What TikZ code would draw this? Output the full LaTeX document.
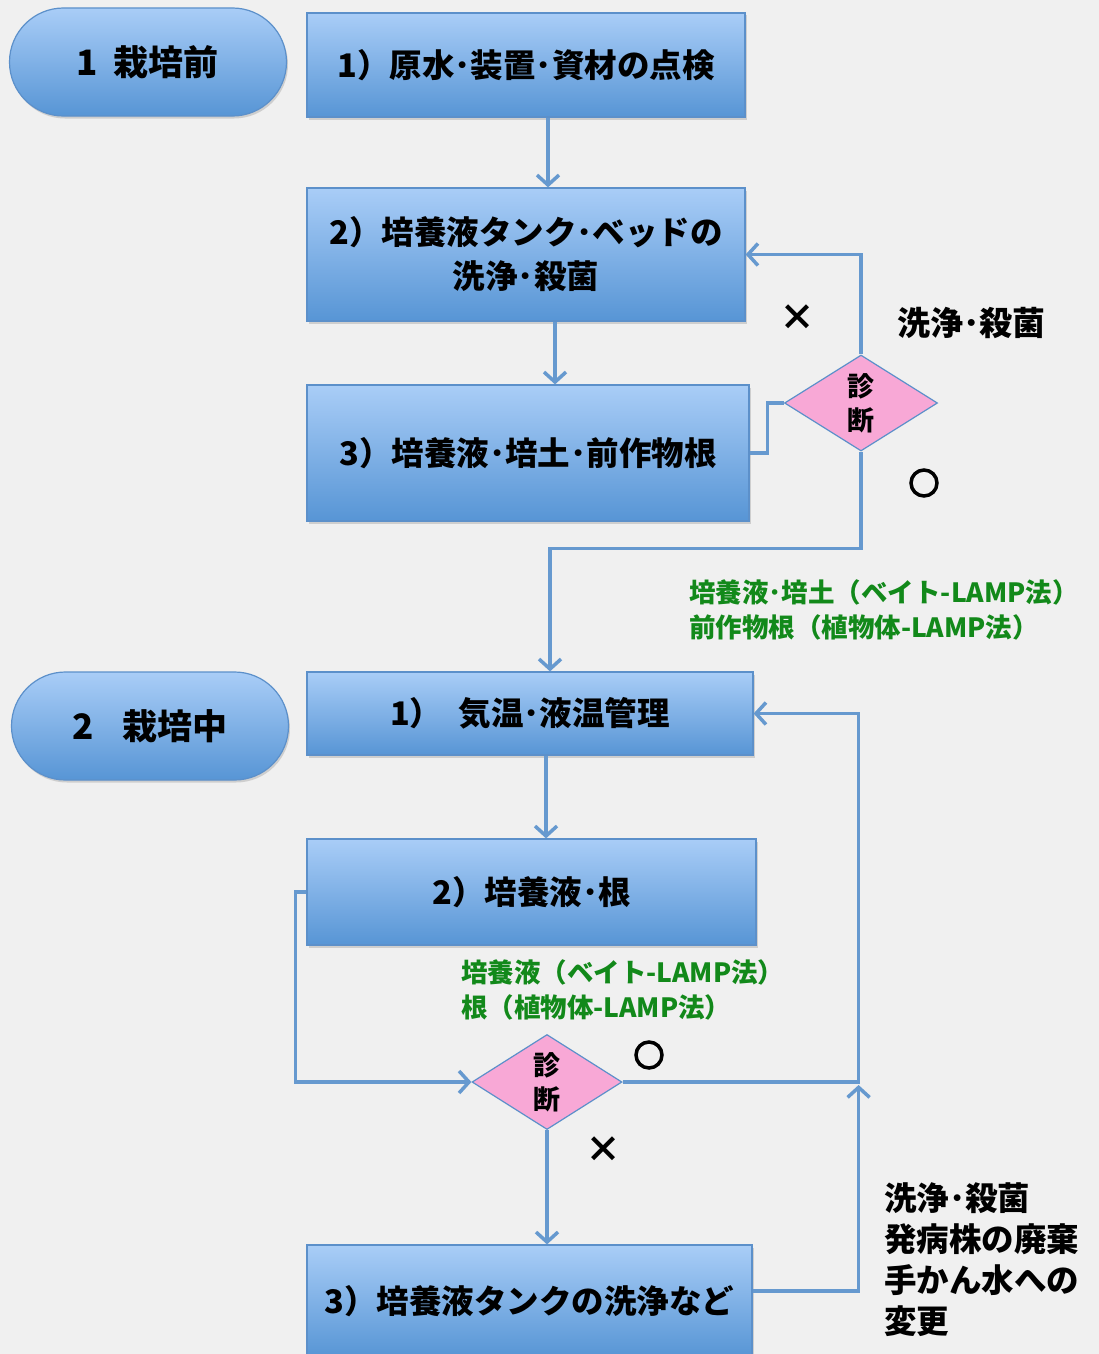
\documentclass[tikz,border=0pt]{standalone}
\usepackage{fontspec}
\setmainfont{Noto Sans CJK JP}
\usetikzlibrary{shapes.geometric,arrows.meta,shadows}
\definecolor{bgc}{HTML}{F0F0F0}
\definecolor{boxtop}{HTML}{A9CDF7}
\definecolor{boxbot}{HTML}{5795D5}
\definecolor{bordc}{HTML}{5C90CA}
\definecolor{linec}{HTML}{6699CF}
\definecolor{pinkc}{HTML}{F8A8D6}
\definecolor{greenc}{HTML}{12891A}
\tikzset{
  boxstyle/.style={draw=bordc, line width=1.2pt, top color=boxtop, bottom color=boxbot,
    align=center, inner sep=0pt, font=\bfseries\fontsize{32.5}{44}\selectfont,
    drop shadow={shadow xshift=1.5pt, shadow yshift=-2.5pt, opacity=0.3}},
  pillstyle/.style={boxstyle, rounded corners=54pt, font=\bfseries\fontsize{35}{40}\selectfont},
  diastyle/.style={diamond, draw=bordc, line width=1.2pt, fill=pinkc, aspect=1.6,
    inner sep=0pt, align=center, font=\bfseries\fontsize{27}{34}\selectfont},
  conn/.style={draw=linec, line width=3.5pt},
  arr/.style={conn, -{Straight Barb[length=10pt,width=22pt]}},
  symbol/.style={font=\bfseries\fontsize{36}{36}\selectfont},
  ringsym/.style={circle, draw=black, line width=3.5pt, minimum size=26pt, inner sep=0pt},
  note/.style={align=left, anchor=west, inner sep=0pt},
  greennote/.style={note, text=greenc, font=\bfseries\fontsize{26.5}{35}\selectfont},
}
\begin{document}
\begin{tikzpicture}[x=1pt,y=-1pt]
\useasboundingbox (0,0) rectangle (1099,1354);
\clip (0,0) rectangle (1099,1354);
\fill[bgc] (0,0) rectangle (1099,1354);

% section pills
\node[pillstyle, minimum width=277pt, minimum height=108pt] (p1) at (148,62) {1\hspace{0.45em}栽培前};
\node[pillstyle, minimum width=277pt, minimum height=108pt] (p2) at (150,726) {2\hspace{0.8em}栽培中};

% stage 1
\node[boxstyle, minimum width=438pt, minimum height=104pt] (A1) at (526,65) {1）原水･装置･資材の点検};
\node[boxstyle, minimum width=438pt, minimum height=133pt] (A2) at (526,254.5) {2）培養液タンク･ベッドの\\洗浄･殺菌};
\node[boxstyle, minimum width=442pt, minimum height=136pt] (A3) at (528,453) {3）培養液･培土･前作物根};
\node[diastyle, minimum width=153pt, minimum height=96pt] (d1) at (861,403) {診\\断};

% stage 2
\node[boxstyle, minimum width=446pt, minimum height=83pt] (B1) at (530,713.5) {1）\hspace{0.5em}気温･液温管理};
\node[boxstyle, minimum width=449pt, minimum height=106pt] (B2) at (531.5,892) {2）培養液･根};
\node[diastyle, minimum width=150pt, minimum height=95pt] (d2) at (547,1082) {診\\断};
\node[boxstyle, minimum width=445pt, minimum height=112pt] (B3) at (529.5,1301) {3）培養液タンクの洗浄など};

% labels
\node[symbol] (x1) at (797,318) {×};
\node[note, font=\bfseries\fontsize{33}{40}\selectfont] (t1) at (897,323) {洗浄･殺菌};
\node[ringsym] (o1) at (924,483) {};
\node[greennote] (g1) at (689,610) {培養液･培土（ベイト-LAMP法）\\前作物根（植物体-LAMP法）};
\node[greennote] (g2) at (461,990) {培養液（ベイト-LAMP法）\\根（植物体-LAMP法）};
\node[ringsym] (o2) at (649,1055) {};
\node[symbol] (x2) at (603,1150) {×};
\node[note, font=\bfseries\fontsize{32.5}{41}\selectfont] (t2) at (884,1260) {洗浄･殺菌\\発病株の廃棄\\手かん水への\\変更};

% connectors
\coordinate (jn) at ([xshift=236pt,yshift=-3pt]d2.east);
\draw[arr] ([xshift=22pt]A1.south) -- ([xshift=22pt]A2.north);
\draw[arr] ([xshift=29pt]A2.south) -- ([xshift=27pt]A3.north);
\draw[conn] (A3.east) -- ++(18,0) |- (d1.west);
\draw[arr] (d1.north) |- (A2.east);
\draw[arr] (d1.south) -- ++(0,97) -| ([xshift=20pt]B1.north);
\draw[arr] ([xshift=16pt]B1.south) -- ([xshift=14.5pt]B2.north);
\draw[arr] (B2.west) -- ++(-11,0) |- (d2.west);
\draw[arr] (d2.east) -- ++(236,0) |- (B1.east);
\draw[arr] (d2.south) -- (d2.south |- B3.north);
\draw[arr] ([yshift=10pt]B3.east) -| (jn);
\end{tikzpicture}
\end{document}
